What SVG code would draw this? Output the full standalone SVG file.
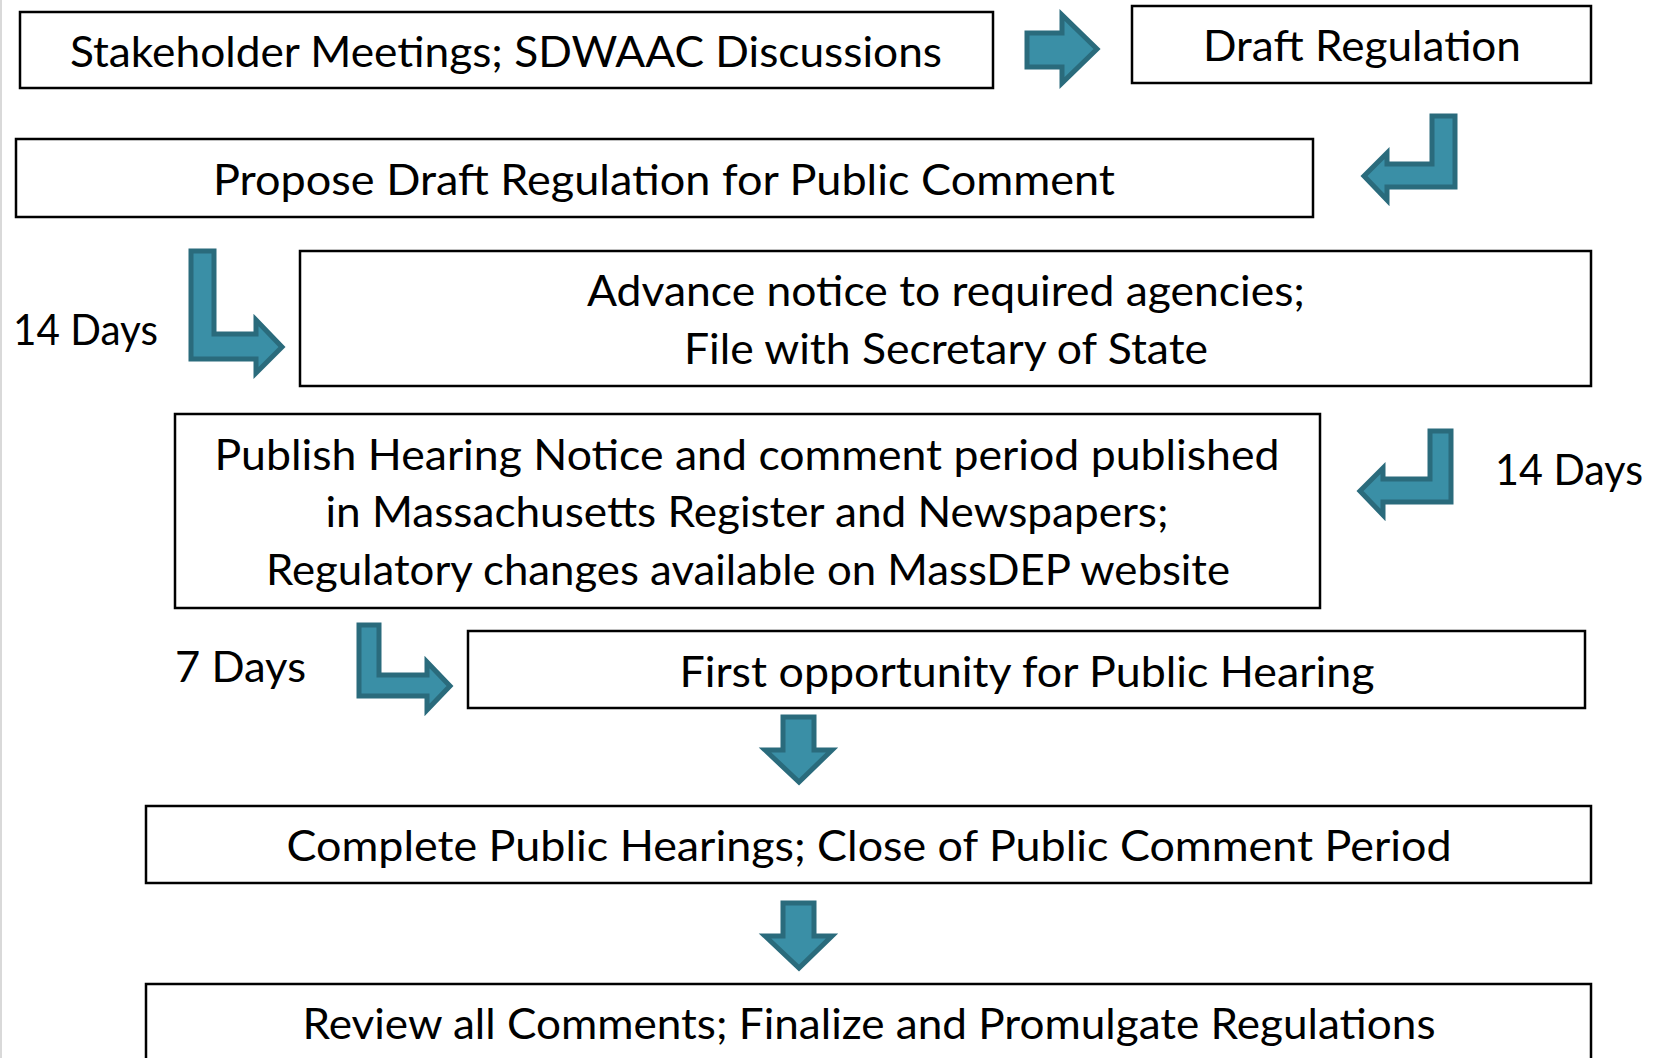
<svg xmlns="http://www.w3.org/2000/svg" width="1660" height="1058" viewBox="0 0 1660 1058">
<style>
.box{fill:#fff;stroke:#000;stroke-width:2.5}
.arr{fill:#3A8FA6;stroke:#2A6B7C;stroke-width:5;stroke-linejoin:miter}
text{font-family:Lato,"Open Sans","Liberation Sans",sans-serif;font-size:43px;fill:#000}
.c{text-anchor:middle}
</style>
<rect x="0" y="0" width="1660" height="1058" fill="#fff"/>
<line x1="1" y1="0" x2="1" y2="1058" stroke="#d9d9d9" stroke-width="2"/>
<g id="connectors">
<path class="arr" d="M1027,33 H1062 V15 L1097,49 L1062,83 V67 H1027 Z"/>
<path class="arr" d="M1432,116 H1455 V187 H1387 V200 L1364,176 L1387,153 V164 H1432 Z"/>
<path class="arr" d="M191,251 H214 V334 H256 V320 L282,347 L256,373 V359 H191 Z"/>
<path class="arr" d="M1430,431 H1451 V502 H1383 V515 L1360,491 L1383,468 V479 H1430 Z"/>
<path class="arr" d="M359,625 H379 V675 H427 V662 L450,686 L427,710 V696 H359 Z"/>
<path class="arr" d="M783,717 H814 V750 H832 L799,782 L765,750 H783 Z"/>
<path class="arr" d="M783,903 H814 V936 H832 L799,968 L765,936 H783 Z"/>
</g>
<g id="stakeholder">
<rect class="box" x="20" y="12" width="973" height="76"/>
<text class="c" x="506" y="67" textLength="872" lengthAdjust="spacingAndGlyphs">Stakeholder Meetings; SDWAAC Discussions</text>
</g>
<g id="draft">
<rect class="box" x="1132" y="6" width="459" height="77"/>
<text class="c" x="1362" y="61" textLength="318" lengthAdjust="spacingAndGlyphs">Draft Regulation</text>
</g>
<g id="propose">
<rect class="box" x="16" y="139" width="1297" height="78"/>
<text class="c" x="664" y="195" textLength="902" lengthAdjust="spacingAndGlyphs">Propose Draft Regulation for Public Comment</text>
</g>
<g id="days14a">
<text x="13" y="345" textLength="145" lengthAdjust="spacingAndGlyphs">14 Days</text>
</g>
<g id="advance">
<rect class="box" x="300" y="251" width="1291" height="135"/>
<text class="c" x="946" y="306" textLength="718" lengthAdjust="spacingAndGlyphs">Advance notice to required agencies;</text>
<text class="c" x="946" y="364" textLength="524" lengthAdjust="spacingAndGlyphs">File with Secretary of State</text>
</g>
<g id="publish">
<rect class="box" x="175" y="414" width="1145" height="194"/>
<text class="c" x="747" y="470" textLength="1065" lengthAdjust="spacingAndGlyphs">Publish Hearing Notice and comment period published</text>
<text class="c" x="747" y="527" textLength="843" lengthAdjust="spacingAndGlyphs">in Massachusetts Register and Newspapers;</text>
<text class="c" x="748" y="585" textLength="964" lengthAdjust="spacingAndGlyphs">Regulatory changes available on MassDEP website</text>
</g>
<g id="days14b">
<text x="1495" y="485" textLength="148" lengthAdjust="spacingAndGlyphs">14 Days</text>
</g>
<g id="days7">
<text x="175" y="682" textLength="131" lengthAdjust="spacingAndGlyphs">7 Days</text>
</g>
<g id="first">
<rect class="box" x="468" y="631" width="1117" height="77"/>
<text class="c" x="1027" y="687" textLength="695" lengthAdjust="spacingAndGlyphs">First opportunity for Public Hearing</text>
</g>
<g id="complete">
<rect class="box" x="146" y="806" width="1445" height="77"/>
<text class="c" x="869" y="861" textLength="1165" lengthAdjust="spacingAndGlyphs">Complete Public Hearings; Close of Public Comment Period</text>
</g>
<g id="review">
<rect class="box" x="146" y="984" width="1445" height="90"/>
<text class="c" x="869" y="1039" textLength="1133" lengthAdjust="spacingAndGlyphs">Review all Comments; Finalize and Promulgate Regulations</text>
</g>
</svg>
